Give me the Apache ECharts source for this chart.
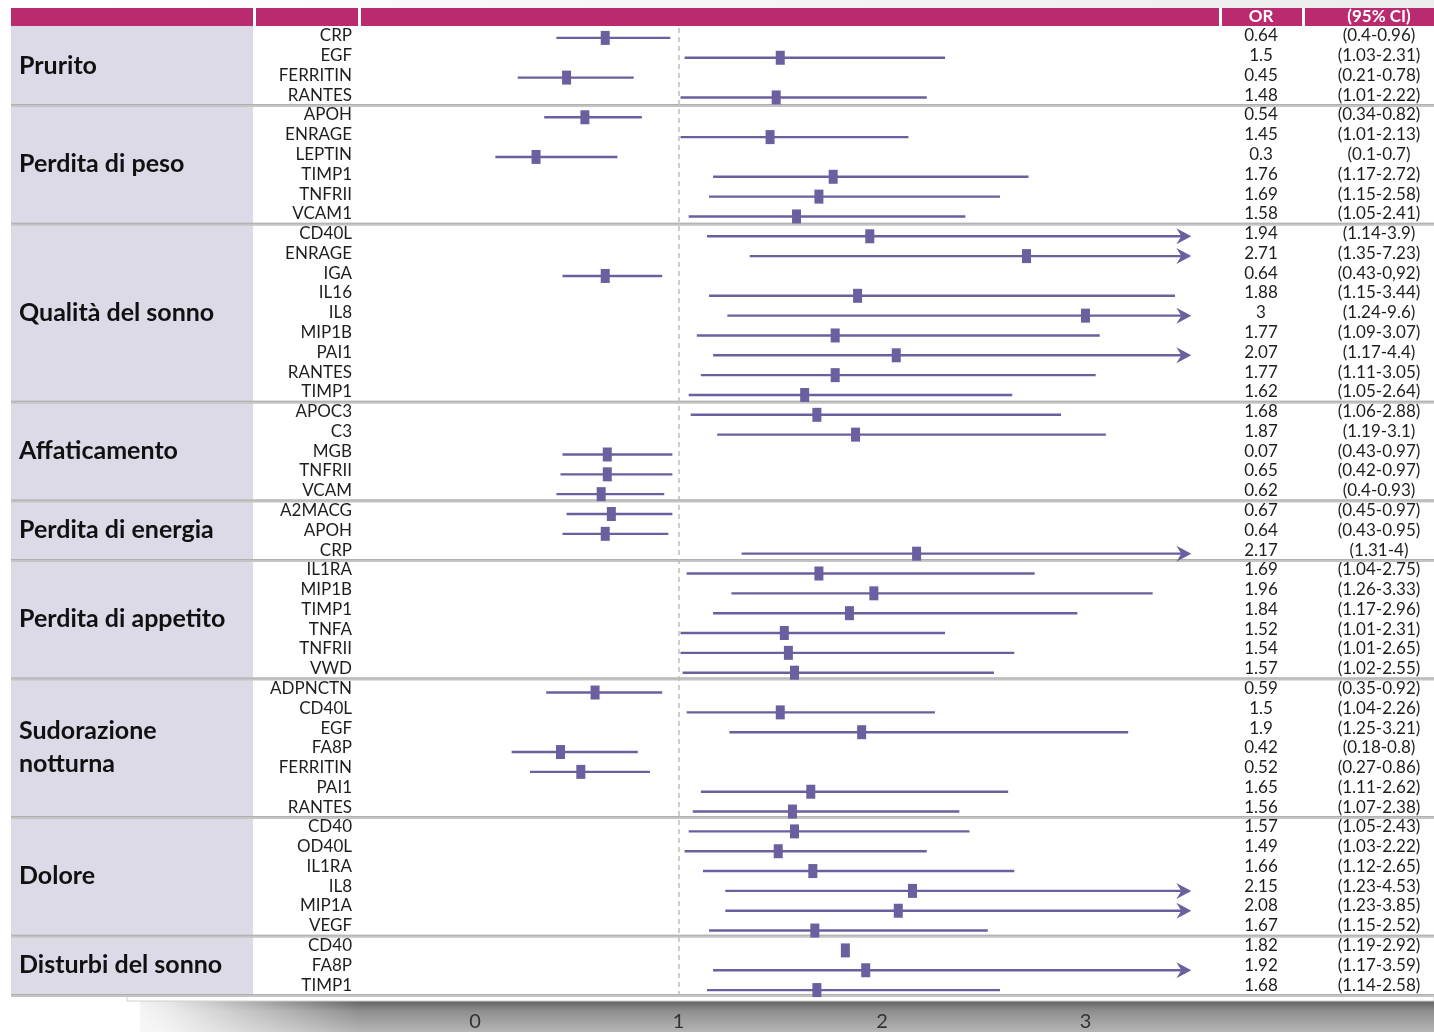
<!DOCTYPE html>
<html>
<head>
<meta charset="utf-8">
<script src="https://cdn.jsdelivr.net/npm/echarts@6/dist/echarts.min.js"></script>
<style>
html,body{margin:0;padding:0;background:#fff;}
#chart{width:1434px;height:1032px;}
</style>
</head>
<body>
<div id="chart"></div>
<script>
// Symptom groups and how many biomarker rows each one spans
const groupNames = ['Prurito', 'Perdita di peso', 'Qualità del sonno', 'Affaticamento',
  'Perdita di energia', 'Perdita di appetito', 'Sudorazione\nnotturna', 'Dolore', 'Disturbi del sonno'];
const groupSizes = [4, 6, 9, 5, 3, 6, 7, 6, 3];

// Biomarker per row
const markers = [
  'CRP', 'EGF', 'FERRITIN', 'RANTES',
  'APOH', 'ENRAGE', 'LEPTIN', 'TIMP1', 'TNFRII', 'VCAM1',
  'CD40L', 'ENRAGE', 'IGA', 'IL16', 'IL8', 'MIP1B', 'PAI1', 'RANTES', 'TIMP1',
  'APOC3', 'C3', 'MGB', 'TNFRII', 'VCAM',
  'A2MACG', 'APOH', 'CRP',
  'IL1RA', 'MIP1B', 'TIMP1', 'TNFA', 'TNFRII', 'VWD',
  'ADPNCTN', 'CD40L', 'EGF', 'FA8P', 'FERRITIN', 'PAI1', 'RANTES',
  'CD40', 'OD40L', 'IL1RA', 'IL8', 'MIP1A', 'VEGF',
  'CD40', 'FA8P', 'TIMP1'
];

// Odds ratio (square marker)
const orValue = [
  0.64, 1.5, 0.45, 1.48,
  0.54, 1.45, 0.3, 1.76, 1.69, 1.58,
  1.94, 2.71, 0.64, 1.88, 3, 1.77, 2.07, 1.77, 1.62,
  1.68, 1.87, 0.65, 0.65, 0.62,
  0.67, 0.64, 2.17,
  1.69, 1.96, 1.84, 1.52, 1.54, 1.57,
  0.59, 1.5, 1.9, 0.42, 0.52, 1.65, 1.56,
  1.57, 1.49, 1.66, 2.15, 2.08, 1.67,
  1.82, 1.92, 1.68
];

// 95% confidence interval bounds (null = no whisker drawn)
const ciLow = [
  0.4, 1.03, 0.21, 1.01,
  0.34, 1.01, 0.1, 1.17, 1.15, 1.05,
  1.14, 1.35, 0.43, 1.15, 1.24, 1.09, 1.17, 1.11, 1.05,
  1.06, 1.19, 0.43, 0.42, 0.4,
  0.45, 0.43, 1.31,
  1.04, 1.26, 1.17, 1.01, 1.01, 1.02,
  0.35, 1.04, 1.25, 0.18, 0.27, 1.11, 1.07,
  1.05, 1.03, 1.12, 1.23, 1.23, 1.15,
  null, 1.17, 1.14
];
const ciHigh = [
  0.96, 2.31, 0.78, 2.22,
  0.82, 2.13, 0.7, 2.72, 2.58, 2.41,
  3.9, 7.23, 0.92, 3.44, 9.6, 3.07, 4.4, 3.05, 2.64,
  2.88, 3.1, 0.97, 0.97, 0.93,
  0.97, 0.95, 4,
  2.75, 3.33, 2.96, 2.31, 2.65, 2.55,
  0.92, 2.26, 3.21, 0.8, 0.86, 2.62, 2.38,
  2.43, 2.22, 2.65, 4.53, 3.85, 2.52,
  null, 3.59, 2.58
];

// Table columns as printed
const orLabels = [
  '0.64', '1.5', '0.45', '1.48',
  '0.54', '1.45', '0.3', '1.76', '1.69', '1.58',
  '1.94', '2.71', '0.64', '1.88', '3', '1.77', '2.07', '1.77', '1.62',
  '1.68', '1.87', '0.07', '0.65', '0.62',
  '0.67', '0.64', '2.17',
  '1.69', '1.96', '1.84', '1.52', '1.54', '1.57',
  '0.59', '1.5', '1.9', '0.42', '0.52', '1.65', '1.56',
  '1.57', '1.49', '1.66', '2.15', '2.08', '1.67',
  '1.82', '1.92', '1.68'
];
const ciLabels = [
  '(0.4-0.96)', '(1.03-2.31)', '(0.21-0.78)', '(1.01-2.22)',
  '(0.34-0.82)', '(1.01-2.13)', '(0.1-0.7)', '(1.17-2.72)', '(1.15-2.58)', '(1.05-2.41)',
  '(1.14-3.9)', '(1.35-7.23)', '(0.43-0,92)', '(1.15-3.44)', '(1.24-9.6)', '(1.09-3.07)', '(1.17-4.4)', '(1.11-3.05)', '(1.05-2.64)',
  '(1.06-2.88)', '(1.19-3.1)', '(0.43-0.97)', '(0.42-0.97)', '(0.4-0.93)',
  '(0.45-0.97)', '(0.43-0.95)', '(1.31-4)',
  '(1.04-2.75)', '(1.26-3.33)', '(1.17-2.96)', '(1.01-2.31)', '(1.01-2.65)', '(1.02-2.55)',
  '(0.35-0.92)', '(1.04-2.26)', '(1.25-3.21)', '(0.18-0.8)', '(0.27-0.86)', '(1.11-2.62)', '(1.07-2.38)',
  '(1.05-2.43)', '(1.03-2.22)', '(1.12-2.65)', '(1.23-4.53)', '(1.23-3.85)', '(1.15-2.52)',
  '(1.19-2.92)', '(1.17-3.59)', '(1.14-2.58)'
];

// Axis tick labels shown under the plot
const xTicks = [0, 1, 2, 3];

// ---- presentation ----
const PURPLE = '#6b5f9f';
const HEADER = '#b92a6e';
const LAVENDER = '#dcdae7';
const SEP = '#c4c4c4';
const FONT = 'Lato, "Open Sans", sans-serif';
const TXT = '#1e1e1e';
const X_CAP = 3.52; // whiskers beyond this end in an arrow

const rowIdx = markers.map((_, i) => i);

// group spans: [groupIndex, firstRow, lastRow]
const groupSpans = [];
let acc = 0;
groupSizes.forEach((n, g) => { groupSpans.push([g, acc, acc + n - 1]); acc += n; });

const chart = echarts.init(document.getElementById('chart'), null, { renderer: 'canvas' });

const tableLabel = (margin, align) => ({
  interval: 0, margin: margin, align: align, fontSize: 17, color: TXT, fontFamily: FONT
});

const option = {
  animation: false,
  backgroundColor: '#fff',
  graphic: [
    // faint shade along the top edge
    { type: 'rect', z: 0, shape: { x: 0, y: 0, width: 1434, height: 8 },
      style: { fill: new echarts.graphic.LinearGradient(0, 0, 1, 0, [
        { offset: 0, color: '#ffffff' }, { offset: 1, color: '#ececec' }]) } },
    // header bar
    { type: 'rect', z: 1, shape: { x: 11, y: 8, width: 1423, height: 18 }, style: { fill: HEADER } },
    { type: 'rect', z: 2, shape: { x: 253, y: 8, width: 3, height: 18 }, style: { fill: '#fff' } },
    { type: 'rect', z: 2, shape: { x: 358, y: 8, width: 3, height: 18 }, style: { fill: '#fff' } },
    { type: 'rect', z: 2, shape: { x: 1219, y: 8, width: 3, height: 18 }, style: { fill: '#fff' } },
    { type: 'rect', z: 2, shape: { x: 1302, y: 8, width: 3, height: 18 }, style: { fill: '#fff' } },
    { type: 'text', z: 3, style: { x: 1261, y: 17, text: 'OR', fill: '#fff', font: 'bold 17px ' + FONT,
      textAlign: 'center', textVerticalAlign: 'middle' } },
    { type: 'text', z: 3, style: { x: 1379, y: 17, text: '(95% CI)', fill: '#fff', font: 'bold 17px ' + FONT,
      textAlign: 'center', textVerticalAlign: 'middle' } },
    // group-name column
    { type: 'rect', z: 1, shape: { x: 11, y: 26, width: 242, height: 969 }, style: { fill: LAVENDER } },
    // frame strip and drop shadow under the table
    { type: 'rect', z: 0, shape: { x: 140, y: 1000, width: 1294, height: 32 },
      style: { fill: new echarts.graphic.LinearGradient(0, 0, 0, 1, [
        { offset: 0, color: '#5f5f5f' }, { offset: 0.35, color: '#8f8f8f' }, { offset: 1, color: '#b5b5b5' }]) } },
    { type: 'rect', z: 0, shape: { x: 100, y: 1000, width: 260, height: 32 },
      style: { fill: new echarts.graphic.LinearGradient(0, 0, 1, 0, [
        { offset: 0, color: 'rgba(255,255,255,1)' }, { offset: 0.25, color: 'rgba(255,255,255,0.85)' },
        { offset: 1, color: 'rgba(255,255,255,0)' }]) } },
    { type: 'rect', z: 1, shape: { x: 127, y: 995, width: 1307, height: 6 },
      style: { fill: '#fff', stroke: '#d0d0d0', lineWidth: 1 } }
  ],
  grid: [
    // table: names, OR and CI columns
    { left: 360, right: 214, top: 26, height: 969 },
    // forest plot
    { left: 373.25, right: 226.4, top: 28, height: 973 }
  ],
  xAxis: [
    { gridIndex: 0, type: 'value', min: 0, max: 1, show: false },
    {
      gridIndex: 1, type: 'value', min: -0.5, max: 3.6, interval: 0.5,
      axisLine: { show: false }, axisTick: { show: false }, splitLine: { show: false },
      axisLabel: {
        margin: 12, fontSize: 20, color: '#333', fontFamily: FONT,
        formatter: v => (xTicks.indexOf(v) >= 0 ? String(v) : '')
      }
    }
  ],
  yAxis: [
    {
      gridIndex: 0, type: 'category', inverse: true, data: markers,
      axisLine: { show: false }, axisTick: { show: false }, splitLine: { show: false },
      axisLabel: tableLabel(8, 'right')
    },
    {
      gridIndex: 0, type: 'category', inverse: true, position: 'right', data: orLabels,
      axisLine: { show: false }, axisTick: { show: false }, splitLine: { show: false },
      axisLabel: tableLabel(41, 'center')
    },
    {
      gridIndex: 0, type: 'category', inverse: true, position: 'right', data: ciLabels,
      axisLine: { show: false }, axisTick: { show: false }, splitLine: { show: false },
      axisLabel: tableLabel(159, 'center')
    },
    { gridIndex: 1, type: 'category', inverse: true, data: rowIdx, show: false }
  ],
  series: [
    {
      // group labels and separators spanning the full table width
      type: 'custom', xAxisIndex: 0, yAxisIndex: 0, z: 2, silent: true, clip: false,
      data: groupSpans,
      encode: { x: -1, y: 1 },
      renderItem: function (params, api) {
        const g = api.value(0);
        const first = api.value(1), last = api.value(2);
        const band = api.size([0, 1])[1];
        const yTop = api.coord([0, first])[1] - band / 2;
        const yBot = api.coord([0, last])[1] + band / 2;
        return {
          type: 'group',
          children: [
            { type: 'rect', shape: { x: 11, y: yBot - 1, width: 1423, height: 3 },
              style: { fill: SEP } },
            { type: 'rect', shape: { x: 11, y: yBot - 1, width: 1423, height: 1 },
              style: { fill: '#b0b0b0' } },
            { type: 'text', style: {
                x: 19, y: (yTop + yBot) / 2, text: groupNames[g],
                font: 'bold 25px ' + FONT, fill: '#111', lineHeight: 33,
                textAlign: 'left', textVerticalAlign: 'middle' } }
          ]
        };
      }
    },
    {
      // CI whiskers and OR squares
      type: 'custom', xAxisIndex: 1, yAxisIndex: 3, z: 5, clip: false,
      data: rowIdx.map(i => [i, ciLow[i], ciHigh[i], orValue[i]]),
      encode: { y: 0, x: [1, 2, 3] },
      renderItem: function (params, api) {
        const row = api.value(0);
        const lo = api.value(1), hi = api.value(2), or = api.value(3);
        const children = [];
        if (!isNaN(lo) && !isNaN(hi)) {
          const a = api.coord([lo, row]);
          const b = api.coord([Math.min(hi, X_CAP), row]);
          const arrow = hi > X_CAP;
          children.push({ type: 'line',
            shape: { x1: a[0], y1: a[1], x2: arrow ? b[0] - 6 : b[0], y2: b[1] },
            style: { stroke: PURPLE, lineWidth: 2.4 } });
          if (arrow) {
            children.push({ type: 'polygon',
              shape: { points: [[b[0], b[1]], [b[0] - 15, b[1] - 8], [b[0] - 10, b[1]], [b[0] - 15, b[1] + 8]] },
              style: { fill: PURPLE } });
          }
        }
        const p = api.coord([or, row]);
        children.push({ type: 'rect', shape: { x: p[0] - 4.5, y: p[1] - 7, width: 9, height: 14 },
          style: { fill: PURPLE } });
        return { type: 'group', children: children };
      },
      markLine: {
        silent: true, symbol: 'none', label: { show: false },
        lineStyle: { type: [5, 4], color: '#bdbdbd', width: 1.5 },
        data: [{ xAxis: 1 }]
      }
    }
  ]
};

chart.setOption(option);
</script>
</body>
</html>
